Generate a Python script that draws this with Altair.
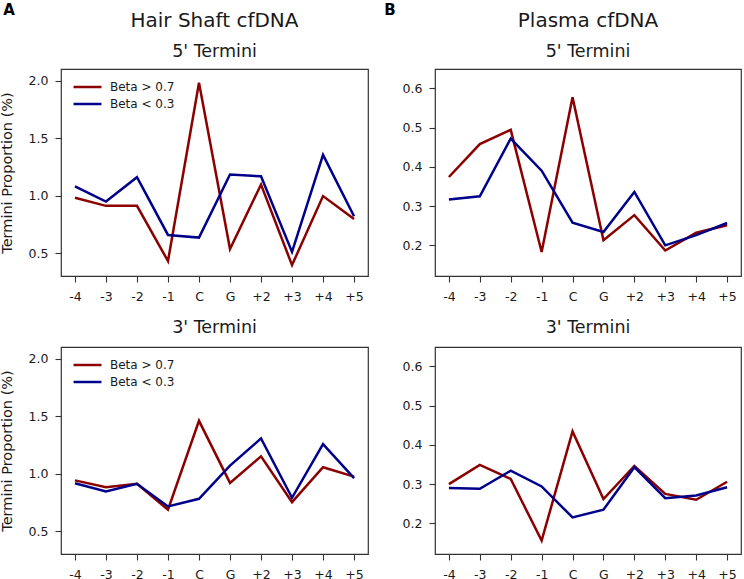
import altair as alt
import pandas as pd

# End-position labels along the x axis
positions = ["-4", "-3", "-2", "-1", "C", "G", "+2", "+3", "+4", "+5"]
groups = ["Beta > 0.7", "Beta < 0.3"]
colors = ["#8b0000", "#00008b"]

# Termini proportion (%) per position
hair_5_high = [0.98, 0.91, 0.91, 0.43, 1.98, 0.535, 1.095, 0.395, 0.995, 0.795]
hair_5_low = [1.08, 0.947, 1.159, 0.657, 0.634, 1.182, 1.167, 0.509, 1.353, 0.82]
hair_3_high = [0.94, 0.88, 0.91, 0.685, 1.458, 0.918, 1.149, 0.751, 1.054, 0.973]
hair_3_low = [0.915, 0.843, 0.91, 0.714, 0.78, 1.068, 1.305, 0.789, 1.256, 0.96]
plasma_5_high = [0.374, 0.458, 0.494, 0.183, 0.577, 0.213, 0.277, 0.187, 0.232, 0.251]
plasma_5_low = [0.317, 0.325, 0.472, 0.39, 0.258, 0.234, 0.336, 0.20, 0.226, 0.257]
plasma_3_high = [0.30, 0.349, 0.313, 0.156, 0.434, 0.262, 0.346, 0.275, 0.26, 0.306]
plasma_3_low = [0.29, 0.288, 0.334, 0.294, 0.215, 0.235, 0.343, 0.264, 0.271, 0.292]

hair_ticks = [0.5, 1.0, 1.5, 2.0]
plasma_ticks = [0.2, 0.3, 0.4, 0.5, 0.6]
hair_domain = [0.30, 2.10]
plasma_domain = [0.122, 0.649]

FONT = "DejaVu Sans"
PANEL_H = 207


def frame(high, low):
    rows = []
    for g, vals in zip(groups, [high, low]):
        for p, v in zip(positions, vals):
            rows.append({"pos": p, "value": v, "group": g})
    return pd.DataFrame(rows)


def panel(high, low, domain, ticks, width, show_ytitle, show_legend,
          title, letter=None, letter_x=0):
    df = frame(high, low)
    legend = None
    if show_legend:
        legend = alt.Legend(
            title=None, orient="none", legendX=15.5, legendY=7,
            padding=0, rowPadding=0, labelOffset=11.5,
            symbolType="M-1.47,0L1.47,0", symbolSize=361,
            symbolStrokeWidth=2.5, symbolFillColor="transparent",
            labelFontSize=12, labelFont=FONT, labelColor="#1a1a1a",
            labelBaseline="middle",
        )
    lines = alt.Chart(df).mark_line(strokeWidth=2.5).encode(
        x=alt.X("pos:N", sort=positions, scale=alt.Scale(padding=0.45),
                axis=alt.Axis(title=None, labelAngle=0)),
        y=alt.Y("value:Q", scale=alt.Scale(domain=domain, nice=False, zero=False),
                axis=alt.Axis(
                    values=ticks, format=".1f",
                    title="Termini Proportion (%)" if show_ytitle else None,
                    titleX=-47, titleY=PANEL_H / 2, titleAngle=-90,
                    titleBaseline="bottom", titleAlign="center",
                )),
        color=alt.Color("group:N", scale=alt.Scale(domain=groups, range=colors),
                        legend=legend),
        detail="group:N",
    )
    layers = [lines]
    if letter is not None:
        # panel letter in the upper-left corner of the column
        lab = alt.Chart(pd.DataFrame({"label": [letter]})).mark_text(
            font=FONT, fontSize=15, fontWeight="bold", color="black",
            baseline="middle", align="center",
        ).encode(x=alt.value(letter_x), y=alt.value(-59), text="label:N")
        layers.append(lab)
    return alt.layer(*layers).properties(width=width, height=PANEL_H, title=title)


def top_title(main):
    # the letter mark above the plot raises the title block, so pull it back down
    return alt.TitleParams(
        text=main, subtitle="5' Termini", font=FONT, fontSize=20,
        fontWeight="normal", color="#1a1a1a", subtitleFont=FONT,
        subtitleFontSize=17.5, subtitleColor="#1a1a1a", subtitlePadding=12,
        offset=-57, anchor="middle", frame="group",
    )


def bottom_title():
    return alt.TitleParams(
        text="3' Termini", font=FONT, fontSize=17.5, fontWeight="normal",
        color="#1a1a1a", offset=11, anchor="middle", frame="group",
    )


chart = alt.concat(
    panel(hair_5_high, hair_5_low, hair_domain, hair_ticks, 307, True, True,
          top_title("Hair Shaft cfDNA"), "A", -52),
    panel(plasma_5_high, plasma_5_low, plasma_domain, plasma_ticks, 306, False, False,
          top_title("Plasma cfDNA"), "B", -45),
    panel(hair_3_high, hair_3_low, hair_domain, hair_ticks, 307, True, True,
          bottom_title()),
    panel(plasma_3_high, plasma_3_low, plasma_domain, plasma_ticks, 306, False, False,
          bottom_title()),
    columns=2, spacing={"row": 71, "column": 67}, bounds="flush",
).resolve_legend(
    color="independent"
).properties(
    autosize=alt.AutoSizeParams(type="none"),
    padding={"left": 61, "top": 69, "right": 683, "bottom": 510},
    background="white",
).configure_view(
    stroke="#333333", strokeWidth=1.2,
).configure_axis(
    grid=False, domain=False, ticks=True, tickSize=6, tickWidth=1.1,
    tickColor="#333333", labelFont=FONT, labelFontSize=12.5,
    labelColor="#1a1a1a", titleFont=FONT, titleFontSize=14.5,
    titleFontWeight="normal", titleColor="#1a1a1a",
).configure_axisX(labelPadding=8).configure_axisY(labelPadding=7)

chart.save("out.html", embed_options={"renderer": "svg", "actions": False})
